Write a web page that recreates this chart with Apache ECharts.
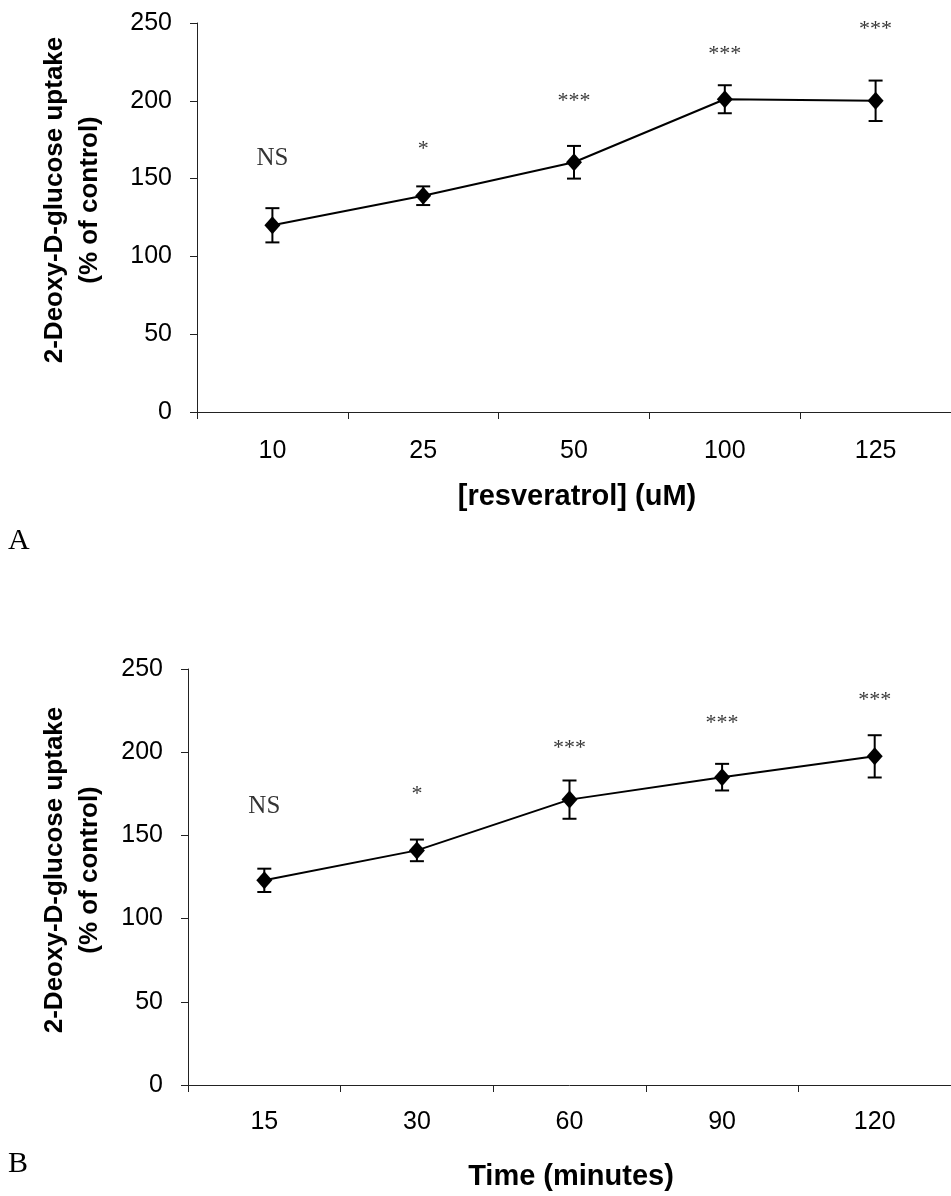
<!DOCTYPE html>
<html>
<head>
<meta charset="utf-8">
<script src="https://cdn.jsdelivr.net/npm/echarts@6/dist/echarts.min.js"></script>
<style>
  html, body { margin: 0; padding: 0; background: #fff; }
  #chart { width: 951px; height: 1196px; }
</style>
</head>
<body>
<div id="chart"></div>
<script>
// ---- Panel A: concentration ----
var catsA = ['10', '25', '50', '100', '125'];
var meanA = [120, 139, 160.5, 201, 200];
var errA = [11, 6, 10.5, 9, 13];
var sigA = ['NS', '*', '***', '***', '***'];
var sigPosA = [163, 169, 200, 230, 246];

// ---- Panel B: time ----
var catsB = ['15', '30', '60', '90', '120'];
var meanB = [123, 141, 171.5, 185, 197.5];
var errB = [7, 6.5, 11.5, 8, 12.7];
var sigB = ['NS', '*', '***', '***', '***'];
var sigPosB = [167.5, 174.5, 202.5, 217.5, 231];

var yTicks = [0, 50, 100, 150, 200, 250];

var chart = echarts.init(document.getElementById('chart'), null, { renderer: 'canvas' });

function errData(mean, err) {
  return mean.map(function (m, i) { return [i, m - err[i], m + err[i]]; });
}
function sigData(pos, txt) {
  return pos.map(function (p, i) {
    return { value: [i, p], label: { formatter: txt[i], fontSize: txt[i] === 'NS' ? 25 : 22 } };
  });
}
function errRender(params, api) {
  var lo = api.coord([api.value(0), api.value(1)]);
  var hi = api.coord([api.value(0), api.value(2)]);
  var cap = 7;
  var st = { stroke: '#000', lineWidth: 2 };
  return {
    type: 'group',
    children: [
      { type: 'line', shape: { x1: hi[0], y1: hi[1], x2: lo[0], y2: lo[1] }, style: st },
      { type: 'line', shape: { x1: hi[0] - cap, y1: hi[1], x2: hi[0] + cap, y2: hi[1] }, style: st },
      { type: 'line', shape: { x1: lo[0] - cap, y1: lo[1], x2: lo[0] + cap, y2: lo[1] }, style: st }
    ]
  };
}

var axisLineStyle = { color: '#222', width: 1 };
function xAxisCfg(idx, cats, margin) {
  return {
    type: 'category', gridIndex: idx, data: cats, boundaryGap: true,
    axisLine: { lineStyle: axisLineStyle },
    axisTick: { show: true, interval: 0, length: 7, lineStyle: axisLineStyle },
    axisLabel: { interval: 0, margin: margin, color: '#000', fontFamily: 'Liberation Sans', fontSize: 25 },
    splitLine: { show: false }
  };
}
function yAxisCfg(idx) {
  return {
    type: 'value', gridIndex: idx, min: yTicks[0], max: yTicks[yTicks.length - 1], interval: 50,
    axisLine: { show: true, lineStyle: axisLineStyle },
    axisTick: { show: true, length: 7, lineStyle: axisLineStyle },
    axisLabel: { margin: 25, color: '#000', fontFamily: 'Liberation Sans', fontSize: 25 },
    splitLine: { show: false }
  };
}

var sigLabel = { show: true, position: 'inside', color: '#000', fontFamily: 'Liberation Serif', fontSize: 22 };

var option = {
  animation: false,
  backgroundColor: '#fff',
  grid: [
    { left: 197, top: 23, right: 0, height: 389 },
    { left: 188, top: 669, right: 0, height: 416 }
  ],
  xAxis: [xAxisCfg(0, catsA, 27), xAxisCfg(1, catsB, 25)],
  yAxis: [yAxisCfg(0), yAxisCfg(1)],
  graphic: [
    { type: 'text', x: 72, y: 200, rotation: Math.PI / 2,
      style: { text: '2-Deoxy-D-glucose uptake\n(% of control)', fontFamily: 'Liberation Sans', fontWeight: 'bold',
               fontSize: 26, lineHeight: 35, fill: '#000', align: 'center', verticalAlign: 'middle' } },
    { type: 'text', x: 72, y: 870, rotation: Math.PI / 2,
      style: { text: '2-Deoxy-D-glucose uptake\n(% of control)', fontFamily: 'Liberation Sans', fontWeight: 'bold',
               fontSize: 26, lineHeight: 35, fill: '#000', align: 'center', verticalAlign: 'middle' } },
    { type: 'text', x: 577, y: 497,
      style: { text: '[resveratrol] (uM)', fontFamily: 'Liberation Sans', fontWeight: 'bold', fontSize: 29,
               fill: '#000', align: 'center', verticalAlign: 'middle' } },
    { type: 'text', x: 571, y: 1177,
      style: { text: 'Time (minutes)', fontFamily: 'Liberation Sans', fontWeight: 'bold', fontSize: 29,
               fill: '#000', align: 'center', verticalAlign: 'middle' } },
    { type: 'text', x: 8, y: 541,
      style: { text: 'A', fontFamily: 'Liberation Serif', fontSize: 30, fill: '#000', align: 'left', verticalAlign: 'middle' } },
    { type: 'text', x: 8, y: 1164,
      style: { text: 'B', fontFamily: 'Liberation Serif', fontSize: 30, fill: '#000', align: 'left', verticalAlign: 'middle' } }
  ],
  series: [
    { type: 'custom', xAxisIndex: 0, yAxisIndex: 0, data: errData(meanA, errA), renderItem: errRender, z: 3 },
    { type: 'line', xAxisIndex: 0, yAxisIndex: 0, data: meanA, symbol: 'diamond', symbolSize: [16, 18],
      itemStyle: { color: '#000' }, lineStyle: { color: '#000', width: 2 }, z: 4 },
    { type: 'scatter', xAxisIndex: 0, yAxisIndex: 0, data: sigData(sigPosA, sigA), symbolSize: 1,
      itemStyle: { color: 'rgba(0,0,0,0)' }, label: sigLabel, z: 5 },
    { type: 'custom', xAxisIndex: 1, yAxisIndex: 1, data: errData(meanB, errB), renderItem: errRender, z: 3 },
    { type: 'line', xAxisIndex: 1, yAxisIndex: 1, data: meanB, symbol: 'diamond', symbolSize: [16, 18],
      itemStyle: { color: '#000' }, lineStyle: { color: '#000', width: 2 }, z: 4 },
    { type: 'scatter', xAxisIndex: 1, yAxisIndex: 1, data: sigData(sigPosB, sigB), symbolSize: 1,
      itemStyle: { color: 'rgba(0,0,0,0)' }, label: sigLabel, z: 5 }
  ]
};
chart.setOption(option);
</script>
</body>
</html>
